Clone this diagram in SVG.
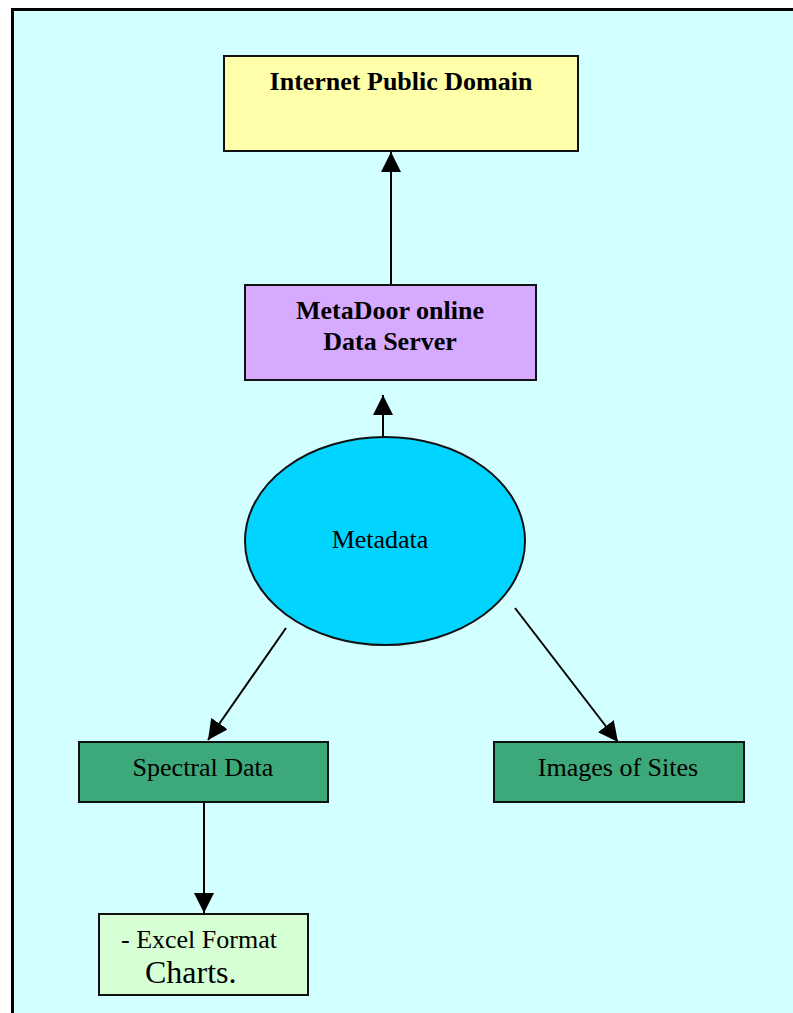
<svg xmlns="http://www.w3.org/2000/svg" width="793" height="1013" viewBox="0 0 793 1013">
<style>
.box{stroke:#111;stroke-width:2}
.t{font-family:"Liberation Serif",serif;font-size:26px;fill:#000;text-anchor:middle}
.b{font-weight:bold}
.c{stroke:#000;stroke-width:2;fill:none}
</style>
<defs>
<marker id="ah" viewBox="0 0 20 20" refX="20" refY="10" markerWidth="20" markerHeight="20" markerUnits="userSpaceOnUse" orient="auto">
<path d="M0,0 L20,10 L0,20 z" fill="#000"/>
</marker>
</defs>
<rect x="0" y="0" width="793" height="1013" fill="#fff"/>
<rect x="12.5" y="9.5" width="800" height="1020" fill="#D2FFFF" stroke="#000" stroke-width="3"/>
<g id="connectors">
<line class="c" x1="391" y1="284" x2="391" y2="152" marker-end="url(#ah)"/>
<line class="c" x1="383" y1="438" x2="383" y2="395" marker-end="url(#ah)"/>
<line class="c" x1="286" y1="628" x2="208" y2="740" marker-end="url(#ah)"/>
<line class="c" x1="515" y1="608" x2="618" y2="742" marker-end="url(#ah)"/>
<line class="c" x1="204" y1="800" x2="204" y2="913" marker-end="url(#ah)"/>
</g>
<g id="internet">
<rect class="box" x="224" y="56" width="354" height="95" fill="#FFFFAA"/>
<text class="t b" x="401" y="90">Internet Public Domain</text>
</g>
<g id="metadoor">
<rect class="box" x="245" y="285" width="291" height="95" fill="#D6AAFF"/>
<text class="t b" x="390" y="319">MetaDoor online</text>
<text class="t b" x="390" y="350">Data Server</text>
</g>
<g id="metadata">
<ellipse class="box" cx="385" cy="541" rx="140" ry="104" fill="#00D4FF"/>
<text class="t" x="380" y="548">Metadata</text>
</g>
<g id="spectral">
<rect class="box" x="79" y="742" width="249" height="60" fill="#3DA879"/>
<text class="t" x="203" y="776">Spectral Data</text>
</g>
<g id="images">
<rect class="box" x="494" y="742" width="250" height="60" fill="#3DA879"/>
<text class="t" x="618" y="776">Images of Sites</text>
</g>
<g id="excel">
<rect class="box" x="99" y="914" width="209" height="81" fill="#D6FFD6"/>
<text class="t" x="121" y="948" style="text-anchor:start">- Excel Format</text>
<text class="t" x="145" y="983" style="text-anchor:start;font-size:32px">Charts.</text>
</g>
</svg>
